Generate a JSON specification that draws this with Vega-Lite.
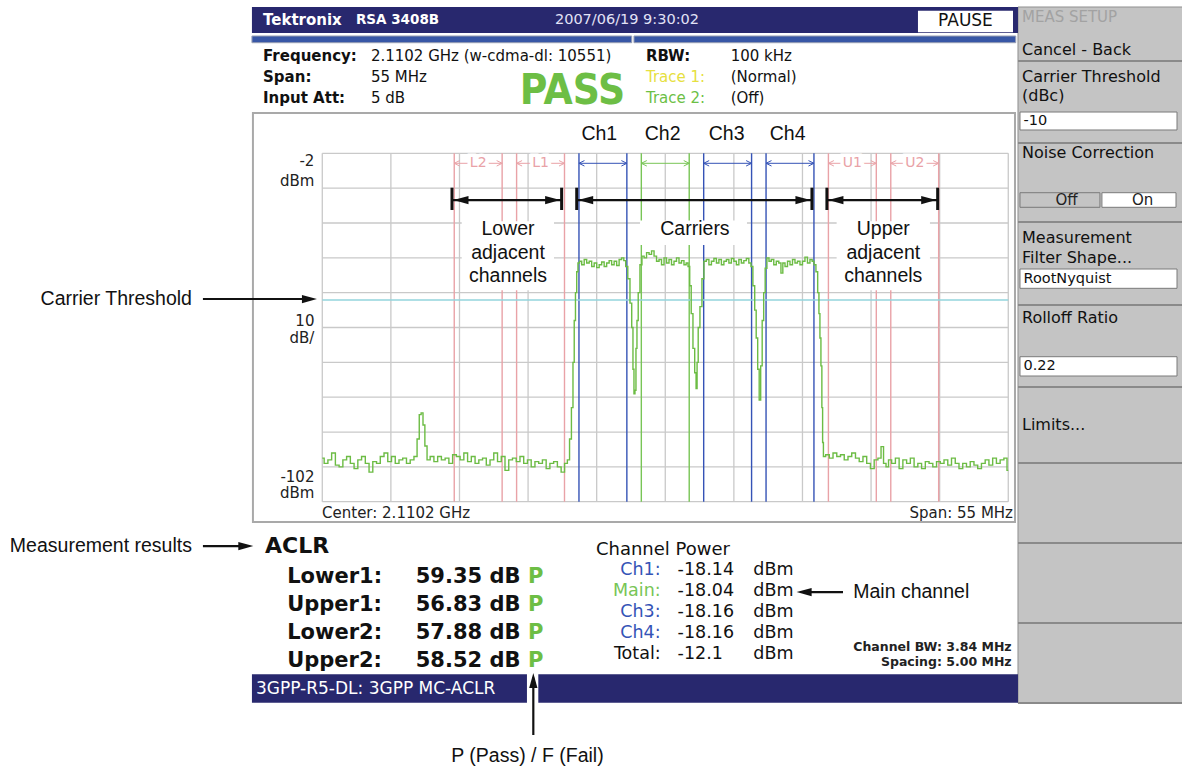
{
"$schema": "https://vega.github.io/schema/vega-lite/v6.json",
"width": 1182, "height": 770, "autosize": {"type": "none"}, "padding": 0,
"background": "white",
"config": {"view": {"stroke": null}, "axis": {"disable": true}, "legend": {"disable": true}, "text": {"font": "DejaVu Sans"}},
"datasets": {
"channels": [
{"name":"Ch1","kind":"carrier","lo":-6.92,"hi":-3.08,"mid":-5},
{"name":"Ch2","kind":"main","lo":-1.92,"hi":1.92,"mid":0},
{"name":"Ch3","kind":"carrier","lo":3.08,"hi":6.92,"mid":5},
{"name":"Ch4","kind":"carrier","lo":8.08,"hi":11.92,"mid":10},
{"name":"L1","kind":"adjacent","lo":-11.92,"hi":-8.08,"mid":-10},
{"name":"L2","kind":"adjacent","lo":-16.92,"hi":-13.08,"mid":-15},
{"name":"U1","kind":"adjacent","lo":13.08,"hi":16.92,"mid":15},
{"name":"U2","kind":"adjacent","lo":18.08,"hi":21.92,"mid":20}
],
"trace": [
{"f":-27.5,"p":-89.5},{"f":-27.2,"p":-91},{"f":-26.9,"p":-90},{"f":-26.6,"p":-88},{"f":-26.3,"p":-91.5},{"f":-26.0,"p":-92},{"f":-25.7,"p":-90},{"f":-25.4,"p":-89},{"f":-25.1,"p":-91},{"f":-24.8,"p":-92.5},{"f":-24.5,"p":-90},{"f":-24.2,"p":-89},{"f":-23.9,"p":-91},{"f":-23.6,"p":-93.5},{"f":-23.3,"p":-90.5},{"f":-23.0,"p":-91},{"f":-22.7,"p":-89},{"f":-22.4,"p":-88},{"f":-22.1,"p":-90.5},{"f":-21.8,"p":-89},{"f":-21.5,"p":-91},{"f":-21.2,"p":-90},{"f":-20.9,"p":-89.5},{"f":-20.6,"p":-91},{"f":-20.3,"p":-90},{"f":-20.0,"p":-89},{"f":-19.8,"p":-84},{"f":-19.65,"p":-77},{"f":-19.5,"p":-76.5},{"f":-19.35,"p":-80},{"f":-19.2,"p":-86},{"f":-19.0,"p":-90},{"f":-18.7,"p":-89},{"f":-18.4,"p":-90.5},{"f":-18.1,"p":-89},{"f":-17.8,"p":-90},{"f":-17.5,"p":-89.5},{"f":-17.2,"p":-91},{"f":-16.9,"p":-88.5},{"f":-16.6,"p":-89},{"f":-16.3,"p":-90},{"f":-16.0,"p":-88},{"f":-15.7,"p":-90.5},{"f":-15.4,"p":-89},{"f":-15.1,"p":-91},{"f":-14.8,"p":-90},{"f":-14.5,"p":-89.5},{"f":-14.2,"p":-91.5},{"f":-13.9,"p":-90},{"f":-13.6,"p":-88},{"f":-13.3,"p":-90.5},{"f":-13.0,"p":-89},{"f":-12.7,"p":-93},{"f":-12.4,"p":-90},{"f":-12.1,"p":-89.5},{"f":-11.8,"p":-90.5},{"f":-11.5,"p":-89},{"f":-11.2,"p":-91},{"f":-10.9,"p":-90},{"f":-10.6,"p":-92},{"f":-10.3,"p":-90.5},{"f":-10.0,"p":-91},{"f":-9.7,"p":-90},{"f":-9.4,"p":-92.5},{"f":-9.1,"p":-91},{"f":-8.8,"p":-90.5},{"f":-8.5,"p":-92},{"f":-8.2,"p":-93.5},{"f":-7.95,"p":-91},{"f":-7.75,"p":-90},{"f":-7.6,"p":-84},{"f":-7.45,"p":-75},{"f":-7.35,"p":-62},{"f":-7.25,"p":-50},{"f":-7.15,"p":-42},{"f":-7.05,"p":-36},{"f":-6.95,"p":-33.5},
{"f":-6.8,"p":-33},{"f":-6.6,"p":-34},{"f":-6.4,"p":-32.5},{"f":-6.2,"p":-33.5},{"f":-6.0,"p":-33},{"f":-5.8,"p":-34.5},{"f":-5.6,"p":-33.5},{"f":-5.4,"p":-34.8},{"f":-5.2,"p":-34},{"f":-5.0,"p":-33.2},{"f":-4.8,"p":-34.5},{"f":-4.6,"p":-33.5},{"f":-4.4,"p":-32.8},{"f":-4.2,"p":-34},{"f":-4.0,"p":-33},{"f":-3.8,"p":-34.2},{"f":-3.6,"p":-32.5},{"f":-3.4,"p":-32},{"f":-3.25,"p":-32.8},{"f":-3.1,"p":-34.5},
{"f":-2.91,"p":-38},{"f":-2.75,"p":-45},{"f":-2.63,"p":-52},{"f":-2.55,"p":-64},{"f":-2.47,"p":-71},{"f":-2.39,"p":-70},{"f":-2.31,"p":-58},{"f":-2.23,"p":-50},{"f":-2.11,"p":-42},{"f":-1.95,"p":-34},{"f":-1.79,"p":-31.5},
{"f":-1.6,"p":-32},{"f":-1.4,"p":-30.5},{"f":-1.2,"p":-31},{"f":-1.0,"p":-30},{"f":-0.8,"p":-31.5},{"f":-0.6,"p":-33},{"f":-0.4,"p":-32.5},{"f":-0.2,"p":-34},{"f":0.0,"p":-32},{"f":0.2,"p":-33.5},{"f":0.4,"p":-32.5},{"f":0.6,"p":-34},{"f":0.8,"p":-33},{"f":1.0,"p":-32},{"f":1.2,"p":-33.5},{"f":1.4,"p":-32.8},{"f":1.6,"p":-34},{"f":1.75,"p":-33.5},{"f":1.9,"p":-34.5},
{"f":2.02,"p":-40},{"f":2.14,"p":-48},{"f":2.3,"p":-58},{"f":2.42,"p":-65},{"f":2.52,"p":-69.5},{"f":2.58,"p":-62},{"f":2.7,"p":-52},{"f":2.86,"p":-46},{"f":3.02,"p":-38},{"f":3.18,"p":-33},
{"f":3.4,"p":-32.5},{"f":3.6,"p":-34},{"f":3.8,"p":-33},{"f":4.0,"p":-32.2},{"f":4.2,"p":-33.5},{"f":4.4,"p":-32.5},{"f":4.6,"p":-34},{"f":4.8,"p":-33},{"f":5.0,"p":-32.5},{"f":5.2,"p":-33.5},{"f":5.4,"p":-32.2},{"f":5.6,"p":-33},{"f":5.8,"p":-34},{"f":6.0,"p":-32.5},{"f":6.2,"p":-33.5},{"f":6.4,"p":-32.8},{"f":6.6,"p":-32.2},{"f":6.8,"p":-33.5},{"f":6.94,"p":-34.5},
{"f":7.11,"p":-40},{"f":7.23,"p":-47},{"f":7.35,"p":-55},{"f":7.47,"p":-64},{"f":7.59,"p":-72.8},{"f":7.71,"p":-63},{"f":7.83,"p":-50},{"f":7.95,"p":-42},{"f":8.07,"p":-35},{"f":8.23,"p":-32},
{"f":8.4,"p":-33},{"f":8.6,"p":-32.5},{"f":8.8,"p":-34},{"f":9.0,"p":-33},{"f":9.2,"p":-33.5},{"f":9.35,"p":-36.4},{"f":9.5,"p":-33.5},{"f":9.7,"p":-34.5},{"f":9.9,"p":-33},{"f":10.1,"p":-34},{"f":10.3,"p":-32.5},{"f":10.5,"p":-33.5},{"f":10.7,"p":-33},{"f":10.9,"p":-34},{"f":11.1,"p":-33},{"f":11.3,"p":-31.8},{"f":11.5,"p":-33.5},{"f":11.7,"p":-32.5},{"f":11.85,"p":-33},{"f":12.0,"p":-34},
{"f":12.16,"p":-36},{"f":12.28,"p":-42},{"f":12.36,"p":-48},{"f":12.44,"p":-55},{"f":12.52,"p":-63},{"f":12.59,"p":-75},{"f":12.64,"p":-85},{"f":12.72,"p":-89},
{"f":13.0,"p":-88.5},{"f":13.3,"p":-89.5},{"f":13.6,"p":-88},{"f":13.9,"p":-89},{"f":14.2,"p":-88.5},{"f":14.5,"p":-90},{"f":14.8,"p":-89},{"f":15.1,"p":-88},{"f":15.4,"p":-89.5},{"f":15.7,"p":-90.5},{"f":16.0,"p":-89},{"f":16.3,"p":-91},{"f":16.6,"p":-92.5},{"f":16.9,"p":-90},{"f":17.2,"p":-89.5},{"f":17.4,"p":-86.2},{"f":17.6,"p":-91},{"f":17.8,"p":-92},{"f":18.0,"p":-90},{"f":18.3,"p":-91},{"f":18.6,"p":-89.5},{"f":18.9,"p":-92.5},{"f":19.2,"p":-90},{"f":19.5,"p":-91},{"f":19.8,"p":-89.5},{"f":20.1,"p":-92},{"f":20.4,"p":-91},{"f":20.7,"p":-92.5},{"f":21.0,"p":-90.5},{"f":21.3,"p":-91},{"f":21.6,"p":-92},{"f":21.9,"p":-90.5},{"f":22.2,"p":-91},{"f":22.5,"p":-90},{"f":22.8,"p":-91.5},{"f":23.1,"p":-89.5},{"f":23.4,"p":-91},{"f":23.7,"p":-92.5},{"f":24.0,"p":-91},{"f":24.3,"p":-92},{"f":24.6,"p":-90.5},{"f":24.9,"p":-91.5},{"f":25.2,"p":-92.5},{"f":25.5,"p":-91},{"f":25.8,"p":-90},{"f":26.1,"p":-91.5},{"f":26.4,"p":-89.5},{"f":26.7,"p":-91},{"f":27.0,"p":-90},{"f":27.3,"p":-89.5},{"f":27.5,"p":-93}
]
},
"layer": [
{"data": {"values": [{"x":28.28,"x2":41.6,"y":39.99,"y2":-159.78}]},
 "mark": {"type":"rect","fill":"#c4c4c4","stroke":"#8f8f8f","strokeWidth":1},
 "encoding": {"x":{"field":"x","type":"quantitative","scale":{"domain":[-53.34,41.43],"nice":false,"zero":false},"axis":null},"x2":{"field":"x2"},
  "y":{"field":"y","type":"quantitative","scale":{"domain":[-179,42],"nice":false,"zero":false},"axis":null},"y2":{"field":"y2"}}},
{"data": {"values": [{"x":-33.14,"x2":28.28,"y":39.99,"y2":32.53},{"x":-33.14,"x2":-11.09,"y":-151.54,"y2":-159.69},{"x":-10.18,"x2":28.28,"y":-151.54,"y2":-159.69}]},
 "mark": {"type":"rect","fill":"#28286e"},
 "encoding": {"x":{"field":"x","type":"quantitative"},"x2":{"field":"x2"},"y":{"field":"y","type":"quantitative"},"y2":{"field":"y2"}}},
{"data": {"values": [{"x":-33.14,"x2":-2.69,"y":31.67,"y2":29.74},{"x":-2.51,"x2":28.1,"y":31.67,"y2":29.74}]},
 "mark": {"type":"rect","fill":"#3857a6","stroke":"#9aa0b4","strokeWidth":1},
 "encoding": {"x":{"field":"x","type":"quantitative"},"x2":{"field":"x2"},"y":{"field":"y","type":"quantitative"},"y2":{"field":"y2"}}},
{"data": {"values": [{"x":20.26,"x2":27.88,"y":38.93,"y2":32.73}]},
 "mark": {"type":"rect","fill":"white"},
 "encoding": {"x":{"field":"x","type":"quantitative"},"x2":{"field":"x2"},"y":{"field":"y","type":"quantitative"},"y2":{"field":"y2"}}},
{"data": {"values": [{"x":28.44,"x2":41.03,"y":9.85,"y2":4.69},{"x":28.44,"x2":41.03,"y":-35.21,"y2":-40.75},{"x":28.44,"x2":41.03,"y":-60.38,"y2":-65.92},{"x":35.01,"x2":40.95,"y":-13.31,"y2":-17.5}]},
 "mark": {"type":"rect","fill":"white","stroke":"#7a7a7a","strokeWidth":1},
 "encoding": {"x":{"field":"x","type":"quantitative"},"x2":{"field":"x2"},"y":{"field":"y","type":"quantitative"},"y2":{"field":"y2"}}},
{"data": {"values": [{"x":28.44,"x2":34.85,"y":-13.31,"y2":-17.5}]},
 "mark": {"type":"rect","fill":"#c4c4c4","stroke":"#7a7a7a","strokeWidth":1},
 "encoding": {"x":{"field":"x","type":"quantitative"},"x2":{"field":"x2"},"y":{"field":"y","type":"quantitative"},"y2":{"field":"y2"}}},
{"data": {"values": [{"y":24.49},{"y":0.95},{"y":-21.72},{"y":-45.54},{"y":-69.08},{"y":-90.89},{"y":-113.86},{"y":-136.82},{"y":-159.78}]},
 "mark": {"type":"rule","stroke":"#8a8a8a","strokeWidth":2},
 "encoding": {"x":{"datum":28.28},"x2":{"datum":41.6},"y":{"field":"y","type":"quantitative"}}},
{"data": {"values": [{"x":-33.06,"x2":28.04,"y":9.57,"y2":-107.83}]},
 "mark": {"type":"rect","filled":false,"stroke":"#a9a9a9","strokeWidth":2},
 "encoding": {"x":{"field":"x","type":"quantitative"},"x2":{"field":"x2"},"y":{"field":"y","type":"quantitative"},"y2":{"field":"y2"}}},
{"data": {"values": [{"f":-27.5},{"f":-22},{"f":-16.5},{"f":-11},{"f":-5.5},{"f":0},{"f":5.5},{"f":11},{"f":16.5},{"f":22},{"f":27.5}]},
 "mark": {"type":"rule","stroke":"#c9c9c9","strokeWidth":1.3},
 "encoding": {"x":{"field":"f","type":"quantitative"},"y":{"datum":-2},"y2":{"datum":-102}}},
{"data": {"values": [{"p":-2},{"p":-12},{"p":-22},{"p":-32},{"p":-42},{"p":-52},{"p":-62},{"p":-72},{"p":-82},{"p":-92},{"p":-102}]},
 "mark": {"type":"rule","stroke":"#c9c9c9","strokeWidth":1.3},
 "encoding": {"y":{"field":"p","type":"quantitative"},"x":{"datum":-27.5},"x2":{"datum":27.5}}},
{"data": {"name":"channels"},
 "mark": {"type":"rule","strokeWidth":1.4},
 "encoding": {"x":{"field":"lo","type":"quantitative"},"y":{"datum":-2},"y2":{"datum":-102},
  "color":{"field":"kind","type":"nominal","scale":{"domain":["carrier","main","adjacent","total"],"range":["#3553b6","#78c556","#e9a2a7","#111111"]},"legend":null}}},
{"data": {"name":"channels"},
 "mark": {"type":"rule","strokeWidth":1.4},
 "encoding": {"x":{"field":"hi","type":"quantitative"},"y":{"datum":-2},"y2":{"datum":-102},
  "color":{"field":"kind","type":"nominal","legend":null}}},
{"data": {"values": [{"p":-44.1}]},
 "mark": {"type":"rule","stroke":"#93d5dc","strokeWidth":1.5},
 "encoding": {"y":{"field":"p","type":"quantitative"},"x":{"datum":-27.5},"x2":{"datum":27.5}}},
{"data": {"values": [{"x":-16.32,"x2":-8.92,"y":-21.5,"y2":-41.3},{"x":-2.03,"x2":6.55,"y":-21.3,"y2":-28.3},{"x":13.74,"x2":21.22,"y":-21.5,"y2":-41.3}]},
 "mark": {"type":"rect","fill":"white"},
 "encoding": {"x":{"field":"x","type":"quantitative"},"x2":{"field":"x2"},"y":{"field":"y","type":"quantitative"},"y2":{"field":"y2"}}},
{"data": {"name":"trace"},
 "mark": {"type":"line","stroke":"#6cbc44","strokeWidth":1.4,"interpolate":"step"},
 "encoding": {"x":{"field":"f","type":"quantitative"},"y":{"field":"p","type":"quantitative"}}},
{"data": {"name":"channels"},
 "mark": {"type":"rule","strokeWidth":1},
 "encoding": {"x":{"field":"lo","type":"quantitative"},"x2":{"field":"hi"},"y":{"datum":-4.87},"color":{"field":"kind","type":"nominal","legend":null}}},
{"data": {"name":"channels"},
 "mark": {"type":"point","shape":"M2,-1L0,0L2,1","filled":false,"size":30,"strokeWidth":1,"opacity":1},
 "encoding": {"x":{"field":"lo","type":"quantitative"},"y":{"datum":-4.87},"color":{"field":"kind","type":"nominal","legend":null}}},
{"data": {"name":"channels"},
 "mark": {"type":"point","shape":"M-2,-1L0,0L-2,1","filled":false,"size":30,"strokeWidth":1,"opacity":1},
 "encoding": {"x":{"field":"hi","type":"quantitative"},"y":{"datum":-4.87},"color":{"field":"kind","type":"nominal","legend":null}}},
{"data": {"name":"channels"},
 "transform": [{"filter":"datum.kind == 'adjacent'"}],
 "mark": {"type":"text","fontSize":14,"color":"white","fill":"white","stroke":"white","strokeWidth":7,"align":"center","baseline":"middle"},
 "encoding": {"x":{"field":"mid","type":"quantitative"},"y":{"datum":-4.87},"text":{"field":"name"}}},
{"data": {"name":"channels"},
 "transform": [{"filter":"datum.kind == 'adjacent'"}],
 "mark": {"type":"text","fontSize":14,"align":"center","baseline":"middle"},
 "encoding": {"x":{"field":"mid","type":"quantitative"},"y":{"datum":-4.87},"text":{"field":"name"},"color":{"field":"kind","type":"nominal","legend":null}}},
{"data": {"values": [{"x":-17.1,"x2":-8.31,"y":-15.41},{"x":-7.1,"x2":11.76,"y":-15.41},{"x":12.96,"x2":21.84,"y":-15.41},{"x":-37.07,"x2":-28.6,"y":-43.82},{"x":-37.07,"x2":-33.6,"y":-114.72},{"x":11.1,"x2":14.25,"y":-127.92}]},
 "mark": {"type":"rule","stroke":"#111","strokeWidth":2.2},
 "encoding": {"x":{"field":"x","type":"quantitative"},"x2":{"field":"x2"},"y":{"field":"y","type":"quantitative"}}},
{"data": {"values": [{"x":-10.58,"y":-168.96,"y2":-152.5}]},
 "mark": {"type":"rule","stroke":"#111","strokeWidth":2.2},
 "encoding": {"x":{"field":"x","type":"quantitative"},"y":{"field":"y","type":"quantitative"},"y2":{"field":"y2"}}},
{"data": {"values": [{"x":-17.1},{"x":-8.31},{"x":-7.1},{"x":11.76},{"x":12.96},{"x":21.84}]},
 "mark": {"type":"rule","stroke":"#111","strokeWidth":3},
 "encoding": {"x":{"field":"x","type":"quantitative"},"y":{"datum":-11.87},"y2":{"datum":-18.28}}},
{"data": {"values": [{"x":-8.43,"y":-15.41},{"x":11.64,"y":-15.41},{"x":21.72,"y":-15.41},{"x":-27.93,"y":-43.82},{"x":-33.03,"y":-114.72}]},
 "mark": {"type":"point","shape":"M0,0L-2,-0.55L-2,0.55Z","filled":true,"fill":"#111","size":225,"opacity":1,"strokeWidth":0},
 "encoding": {"x":{"field":"x","type":"quantitative"},"y":{"field":"y","type":"quantitative"}}},
{"data": {"values": [{"x":-16.98,"y":-15.41},{"x":-6.98,"y":-15.41},{"x":13.08,"y":-15.41},{"x":10.53,"y":-127.92}]},
 "mark": {"type":"point","shape":"M0,0L2,-0.55L2,0.55Z","filled":true,"fill":"#111","size":225,"opacity":1,"strokeWidth":0},
 "encoding": {"x":{"field":"x","type":"quantitative"},"y":{"field":"y","type":"quantitative"}}},
{"data": {"values": [{"x":-10.58,"y":-151.17}]},
 "mark": {"type":"point","shape":"M0,0L-0.55,2L0.55,2Z","filled":true,"fill":"#111","size":225,"opacity":1,"strokeWidth":0},
 "encoding": {"x":{"field":"x","type":"quantitative"},"y":{"field":"y","type":"quantitative"}}},
{"data": {"values": [{"t":"Lower","x":-12.61,"y":-23.73},{"t":"adjacent","x":-12.61,"y":-30.7},{"t":"channels","x":-12.61,"y":-37.22},{"t":"Carriers","x":2.38,"y":-23.73},{"t":"Upper","x":17.48,"y":-23.73},{"t":"adjacent","x":17.48,"y":-30.7},{"t":"channels","x":17.48,"y":-37.22},{"t":"Ch1","x":-5.29,"y":3.54},{"t":"Ch2","x":-0.21,"y":3.54},{"t":"Ch3","x":4.92,"y":3.54},{"t":"Ch4","x":9.81,"y":3.54},{"t":"P (Pass) / F (Fail)","x":-11.05,"y":-174.99}]},
 "mark": {"type":"text","font":"Liberation Sans","fontSize":19.5,"color":"#111","align":"center","baseline":"middle"},
 "encoding": {"x":{"field":"x","type":"quantitative"},"y":{"field":"y","type":"quantitative"},"text":{"field":"t"}}},
{"data": {"values": [{"t":"Carrier Threshold","x":-37.95,"y":-43.82},{"t":"Measurement results","x":-37.95,"y":-114.72}]},
 "mark": {"type":"text","font":"Liberation Sans","fontSize":19.5,"color":"#111","align":"right","baseline":"middle"},
 "encoding": {"x":{"field":"x","type":"quantitative"},"y":{"field":"y","type":"quantitative"},"text":{"field":"t"}}},
{"data": {"values": [{"t":"Main channel","x":15.07,"y":-127.92}]},
 "mark": {"type":"text","font":"Liberation Sans","fontSize":19.5,"color":"#111","align":"left","baseline":"middle"},
 "encoding": {"x":{"field":"x","type":"quantitative"},"y":{"field":"y","type":"quantitative"},"text":{"field":"t"}}},
{"data": {"values": [{"t":"-2","y":-4.35},{"t":"dBm","y":-9.81},{"t":"10","y":-50.05},{"t":"dB/","y":-54.87},{"t":"-102","y":-94.82},{"t":"dBm","y":-99.5}]},
 "mark": {"type":"text","fontSize":15,"color":"#222","align":"right","baseline":"middle"},
 "encoding": {"x":{"datum":-28.13},"y":{"field":"y","type":"quantitative"},"text":{"field":"t"}}},
{"data": {"values": [{"t":"Center: 2.1102 GHz","x":-27.52,"y":-105.1}]},
 "mark": {"type":"text","fontSize":15,"color":"#222","align":"left","baseline":"middle"},
 "encoding": {"x":{"field":"x","type":"quantitative"},"y":{"field":"y","type":"quantitative"},"text":{"field":"t"}}},
{"data": {"values": [{"t":"Span: 55 MHz","x":27.88,"y":-105.1}]},
 "mark": {"type":"text","fontSize":15,"color":"#222","align":"right","baseline":"middle"},
 "encoding": {"x":{"field":"x","type":"quantitative"},"y":{"field":"y","type":"quantitative"},"text":{"field":"t"}}},
{"data": {"values": [{"t":"Tektronix","x":-32.25,"y":36.26}]},
 "mark": {"type":"text","fontSize":15,"fontWeight":"bold","color":"white","align":"left","baseline":"middle"},
 "encoding": {"x":{"field":"x","type":"quantitative"},"y":{"field":"y","type":"quantitative"},"text":{"field":"t"}}},
{"data": {"values": [{"t":"RSA 3408B","x":-24.8,"y":36.26}]},
 "mark": {"type":"text","fontSize":13.5,"fontWeight":"bold","color":"white","align":"left","baseline":"middle"},
 "encoding": {"x":{"field":"x","type":"quantitative"},"y":{"field":"y","type":"quantitative"},"text":{"field":"t"}}},
{"data": {"values": [{"t":"2007/06/19 9:30:02","x":-3.07,"y":36.26}]},
 "mark": {"type":"text","fontSize":14.5,"color":"#e2e2f6","align":"center","baseline":"middle"},
 "encoding": {"x":{"field":"x","type":"quantitative"},"y":{"field":"y","type":"quantitative"},"text":{"field":"t"}}},
{"data": {"values": [{"t":"PAUSE","x":24.07,"y":35.83}]},
 "mark": {"type":"text","fontSize":17,"color":"#111","align":"center","baseline":"middle"},
 "encoding": {"x":{"field":"x","type":"quantitative"},"y":{"field":"y","type":"quantitative"},"text":{"field":"t"}}},
{"data": {"values": [{"t":"Frequency:","x":-32.25,"y":24.49},{"t":"Span:","x":-32.25,"y":18.46},{"t":"Input Att:","x":-32.25,"y":12.58},{"t":"RBW:","x":-1.55,"y":24.49}]},
 "mark": {"type":"text","fontSize":15,"fontWeight":"bold","color":"#111","align":"left","baseline":"alphabetic"},
 "encoding": {"x":{"field":"x","type":"quantitative"},"y":{"field":"y","type":"quantitative"},"text":{"field":"t"}}},
{"data": {"values": [{"t":"2.1102 GHz (w-cdma-dl: 10551)","x":-23.6,"y":24.49},{"t":"55 MHz","x":-23.6,"y":18.46},{"t":"5 dB","x":-23.6,"y":12.58},{"t":"100 kHz","x":5.24,"y":24.49},{"t":"(Normal)","x":5.24,"y":18.46},{"t":"(Off)","x":5.24,"y":12.58}]},
 "mark": {"type":"text","fontSize":15,"color":"#111","align":"left","baseline":"alphabetic"},
 "encoding": {"x":{"field":"x","type":"quantitative"},"y":{"field":"y","type":"quantitative"},"text":{"field":"t"}}},
{"data": {"values": [{"t":"Trace 1:","x":-1.55,"y":18.46}]},
 "mark": {"type":"text","fontSize":15,"color":"#e6e040","align":"left","baseline":"alphabetic"},
 "encoding": {"x":{"field":"x","type":"quantitative"},"y":{"field":"y","type":"quantitative"},"text":{"field":"t"}}},
{"data": {"values": [{"t":"Trace 2:","x":-1.55,"y":12.58}]},
 "mark": {"type":"text","fontSize":15,"color":"#6cbf45","align":"left","baseline":"alphabetic"},
 "encoding": {"x":{"field":"x","type":"quantitative"},"y":{"field":"y","type":"quantitative"},"text":{"field":"t"}}},
{"data": {"values": [{"t":"PASS","x":-7.44,"y":12.15}]},
 "mark": {"type":"text","font":"Liberation Sans Narrow, DejaVu Sans Condensed, sans-serif","fontSize":42,"fontWeight":"bold","color":"#6dbe45","align":"center","baseline":"alphabetic"},
 "encoding": {"x":{"field":"x","type":"quantitative"},"y":{"field":"y","type":"quantitative"},"text":{"field":"t"}}},
{"data": {"values": [{"t":"MEAS SETUP","x":28.6,"y":37.12}]},
 "mark": {"type":"text","fontSize":15,"color":"#a2a2a2","align":"left","baseline":"middle"},
 "encoding": {"x":{"field":"x","type":"quantitative"},"y":{"field":"y","type":"quantitative"},"text":{"field":"t"}}},
{"data": {"values": [{"t":"Cancel - Back","y":27.65},{"t":"Carrier Threshold","y":19.76},{"t":"(dBc)","y":14.45},{"t":"Noise Correction","y":-1.77},{"t":"Measurement","y":-26.17},{"t":"Filter Shape...","y":-31.91},{"t":"Rolloff Ratio","y":-49.13},{"t":"Limits...","y":-79.99}]},
 "mark": {"type":"text","fontSize":16,"color":"#111","align":"left","baseline":"middle"},
 "encoding": {"x":{"datum":28.6},"y":{"field":"y","type":"quantitative"},"text":{"field":"t"}}},
{"data": {"values": [{"t":"-10","y":7.27},{"t":"RootNyquist","y":-38.0},{"t":"0.22","y":-63.14}]},
 "mark": {"type":"text","fontSize":14.5,"color":"#111","align":"left","baseline":"middle"},
 "encoding": {"x":{"datum":28.72},"y":{"field":"y","type":"quantitative"},"text":{"field":"t"}}},
{"data": {"values": [{"t":"Off","x":32.18,"y":-15.41},{"t":"On","x":38.28,"y":-15.41}]},
 "mark": {"type":"text","fontSize":15,"color":"#222","align":"center","baseline":"middle"},
 "encoding": {"x":{"field":"x","type":"quantitative"},"y":{"field":"y","type":"quantitative"},"text":{"field":"t"}}},
{"data": {"values": [{"t":"ACLR","x":-32.09,"y":-114.72}]},
 "mark": {"type":"text","fontSize":22,"fontWeight":"bold","color":"#111","align":"left","baseline":"middle"},
 "encoding": {"x":{"field":"x","type":"quantitative"},"y":{"field":"y","type":"quantitative"},"text":{"field":"t"}}},
{"data": {"values": [{"t":"Lower1:","y":-125.34},{"t":"Upper1:","y":-133.37},{"t":"Lower2:","y":-141.41},{"t":"Upper2:","y":-149.36}]},
 "mark": {"type":"text","fontSize":21,"fontWeight":"bold","color":"#111","align":"left","baseline":"alphabetic"},
 "encoding": {"x":{"datum":-30.31},"y":{"field":"y","type":"quantitative"},"text":{"field":"t"}}},
{"data": {"values": [{"t":"59.35 dB","y":-125.34},{"t":"56.83 dB","y":-133.37},{"t":"57.88 dB","y":-141.41},{"t":"58.52 dB","y":-149.36}]},
 "mark": {"type":"text","fontSize":21,"fontWeight":"bold","color":"#111","align":"left","baseline":"alphabetic"},
 "encoding": {"x":{"datum":-20.01},"y":{"field":"y","type":"quantitative"},"text":{"field":"t"}}},
{"data": {"values": [{"t":"P","y":-125.34},{"t":"P","y":-133.37},{"t":"P","y":-141.41},{"t":"P","y":-149.36}]},
 "mark": {"type":"text","fontSize":21,"fontWeight":"bold","color":"#6dbe45","align":"left","baseline":"alphabetic"},
 "encoding": {"x":{"datum":-11.01},"y":{"field":"y","type":"quantitative"},"text":{"field":"t"}}},
{"data": {"values": [{"t":"3GPP-R5-DL: 3GPP MC-ACLR","x":-32.82,"y":-155.76}]},
 "mark": {"type":"text","fontSize":17,"color":"white","align":"left","baseline":"middle"},
 "encoding": {"x":{"field":"x","type":"quantitative"},"y":{"field":"y","type":"quantitative"},"text":{"field":"t"}}},
{"data": {"values": [{"t":"Channel Power","x":-5.56,"y":-117.3}]},
 "mark": {"type":"text","fontSize":18,"color":"#111","align":"left","baseline":"alphabetic"},
 "encoding": {"x":{"field":"x","type":"quantitative"},"y":{"field":"y","type":"quantitative"},"text":{"field":"t"}}},
{"data": {"values": [{"t":"Ch1:","kind":"carrier","y":-123.04},{"t":"Main:","kind":"main","y":-129.07},{"t":"Ch3:","kind":"carrier","y":-135.01},{"t":"Ch4:","kind":"carrier","y":-141.21},{"t":"Total:","kind":"total","y":-147.24}]},
 "mark": {"type":"text","fontSize":17.5,"align":"right","baseline":"alphabetic"},
 "encoding": {"x":{"datum":-0.37},"y":{"field":"y","type":"quantitative"},"text":{"field":"t"},"color":{"field":"kind","type":"nominal","legend":null}}},
{"data": {"values": [{"t":"-18.14","y":-123.04},{"t":"-18.04","y":-129.07},{"t":"-18.16","y":-135.01},{"t":"-18.16","y":-141.21},{"t":"-12.1","y":-147.24}]},
 "mark": {"type":"text","fontSize":17.5,"color":"#111","align":"left","baseline":"alphabetic"},
 "encoding": {"x":{"datum":0.99},"y":{"field":"y","type":"quantitative"},"text":{"field":"t"}}},
{"data": {"values": [{"t":"dBm","y":-123.04},{"t":"dBm","y":-129.07},{"t":"dBm","y":-135.01},{"t":"dBm","y":-141.21},{"t":"dBm","y":-147.24}]},
 "mark": {"type":"text","fontSize":17.5,"color":"#111","align":"left","baseline":"alphabetic"},
 "encoding": {"x":{"datum":7.06},"y":{"field":"y","type":"quantitative"},"text":{"field":"t"}}},
{"data": {"values": [{"t":"Channel BW: 3.84 MHz","y":-144.77},{"t":"Spacing: 5.00 MHz","y":-149.16}]},
 "mark": {"type":"text","fontSize":12.5,"fontWeight":"bold","color":"#222","align":"right","baseline":"alphabetic"},
 "encoding": {"x":{"datum":27.77},"y":{"field":"y","type":"quantitative"},"text":{"field":"t"}}}
]
}
